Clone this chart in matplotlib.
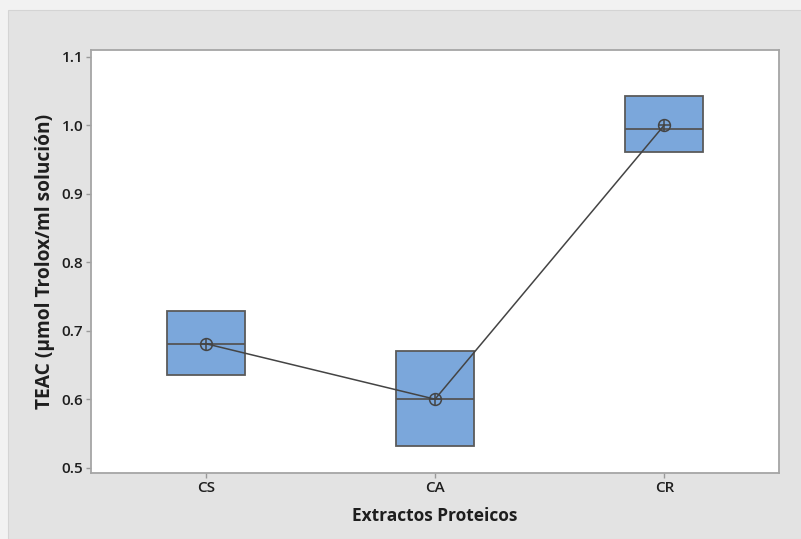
import numpy as np
import matplotlib.pyplot as plt
from matplotlib.patches import Rectangle

# data
groups = ['CS', 'CA', 'CR']
q1 = [0.636, 0.531, 0.960]
med = [0.681, 0.600, 0.994]
q3 = [0.728, 0.670, 1.043]
means = [0.681, 0.600, 1.000]
yticks = [0.5, 0.6, 0.7, 0.8, 0.9, 1.0, 1.1]

plt.rcParams['font.family'] = ['Open Sans', 'DejaVu Sans']

fig = plt.figure(figsize=(8.01, 5.39), dpi=100)
fig.patch.set_facecolor('#f2f2f2')
# grey panel behind the plot
fig.patches.append(Rectangle((8/801, 0), 1, 1 - 10/539, transform=fig.transFigure,
                             facecolor='#e3e3e3', edgecolor='#d4d4d4', lw=0.8, zorder=-5))

ax = fig.add_axes([91/801, 1 - 473/539, 688/801, 423/539])
ax.set_zorder(2)
ax.set_facecolor('white')

pos = np.arange(1, len(groups) + 1)
stats = [dict(q1=a, med=m, q3=b, whislo=a, whishi=b, fliers=[], label=g)
         for a, m, b, g in zip(q1, med, q3, groups)]
ax.bxp(stats, positions=pos, widths=0.34, patch_artist=True, showcaps=False,
       boxprops=dict(facecolor='#7ba7db', edgecolor='#5a5a5a', lw=1.3),
       medianprops=dict(color='#555555', lw=1.3),
       whiskerprops=dict(color='#5a5a5a', lw=1.3))

ax.plot(pos, means, color='#444444', lw=1.1, zorder=5)
ax.plot(pos, means, 'o', ms=8.5, mfc='none', mec='#444444', mew=1.1, zorder=6)
ax.plot(pos, means, '+', ms=8.5, mec='#444444', mew=1.1, zorder=6)

ax.set_xlim(0.5, 3.5)
ax.set_ylim(0.4923, 1.1095)
ax.set_yticks(yticks)
ax.set_yticklabels([f'{v:.1f}' for v in yticks], fontsize=11, fontweight='semibold')
ax.set_xticks(pos)
ax.set_xticklabels(groups, fontsize=11, fontweight='semibold')
ax.tick_params(colors='#999999', length=3.5, width=1, pad=2, labelcolor='#1e1e1e')

for s in ax.spines.values():
    s.set_color('#a5a5a5')
    s.set_linewidth(1.3)

ax.set_ylabel('TEAC (µmol Trolox/ml solución)', fontsize=13.8, fontweight='bold', color='#1e1e1e', labelpad=5)
ax.set_xlabel('Extractos Proteicos', fontsize=12.5, fontweight='bold', color='#1e1e1e', labelpad=9)

fig.savefig('out.png', dpi=100, facecolor=fig.get_facecolor())
